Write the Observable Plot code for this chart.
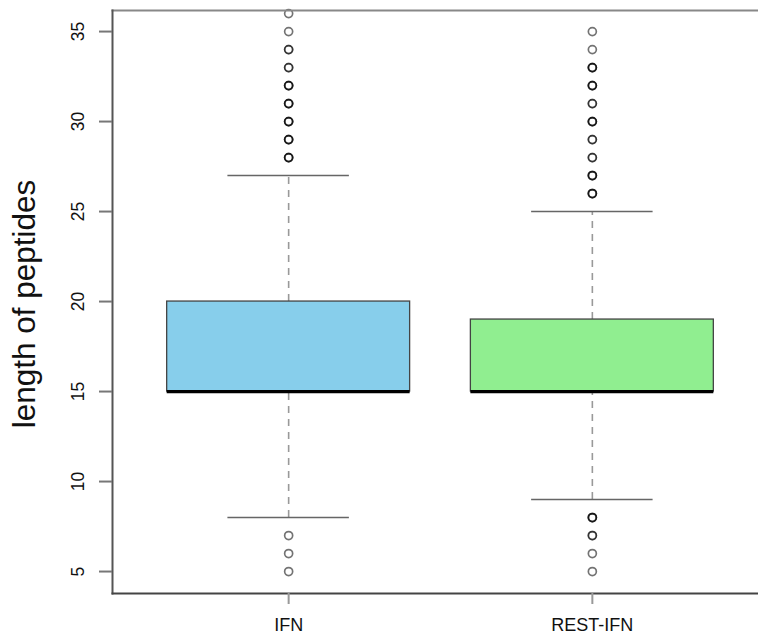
<!DOCTYPE html>
<html>
<head>
<meta charset="utf-8">
<script src="https://cdn.jsdelivr.net/npm/d3@7"></script>
<script src="https://cdn.jsdelivr.net/npm/@observablehq/plot@0.6"></script>
<style>
  html, body { margin: 0; padding: 0; background: #fff; overflow: hidden; width: 758px; height: 642px; }
  #chart { width: 758px; height: 642px; overflow: hidden; }
  #chart svg { display: block; max-width: none !important; width: 758px !important; height: 642px !important; overflow: hidden; }
</style>
</head>
<body>
<div id="chart"></div>
<script>
// ---- data ----
const groups = ["IFN", "REST-IFN"];
const positions = [1, 2];
const q1 = [15, 15];
const median = [15, 15];
const q3 = [20, 19];
const whiskerLow = [8, 9];
const whiskerHigh = [27, 25];
const boxFills = ["#87CEEB", "#90EE90"];
// outliers (repeated values = overplotted points that look darker)
const outliersIFN = [36, 35, 34, 34, 33, 33, 32, 32, 32, 31, 31, 31, 30, 30, 30, 29, 29, 29, 28, 28, 28, 7, 6, 5];
const outliersREST = [35, 34, 33, 33, 33, 32, 32, 32, 31, 31, 30, 30, 30, 29, 29, 28, 28, 27, 27, 27, 26, 26, 26, 8, 8, 8, 7, 7, 6, 5];
const yTicks = [5, 10, 15, 20, 25, 30, 35];
const yLabel = "length of peptides";

const boxes = groups.map((g, i) => ({
  group: g, pos: positions[i], q1: q1[i], median: median[i], q3: q3[i],
  lo: whiskerLow[i], hi: whiskerHigh[i], fill: boxFills[i]
}));
const outliers = [
  ...outliersIFN.map(v => ({pos: positions[0], value: v})),
  ...outliersREST.map(v => ({pos: positions[1], value: v}))
];

const halfBox = 0.4, halfCap = 0.2;

const chart = Plot.plot({
  width: 758,
  height: 642,
  marginLeft: 112,
  marginRight: -10,
  marginTop: 10,
  marginBottom: 49,
  style: {fontFamily: "'Liberation Sans', Arial, sans-serif", background: "#fff", color: "#111", overflow: "hidden"},
  x: {type: "linear", domain: [0.42, 2.58]},
  y: {domain: [3.78, 36.17]},
  marks: [
    // whiskers (dashed)
    Plot.ruleX(boxes, {x: "pos", y1: "q3", y2: "hi", stroke: "#999", strokeWidth: 1.6, strokeDasharray: "7,6"}),
    Plot.ruleX(boxes, {x: "pos", y1: "lo", y2: "q1", stroke: "#999", strokeWidth: 1.6, strokeDasharray: "7,6"}),
    // caps
    Plot.ruleY(boxes, {y: "hi", x1: d => d.pos - halfCap, x2: d => d.pos + halfCap, stroke: "#666", strokeWidth: 1.6}),
    Plot.ruleY(boxes, {y: "lo", x1: d => d.pos - halfCap, x2: d => d.pos + halfCap, stroke: "#666", strokeWidth: 1.6}),
    // boxes
    Plot.rect(boxes, {x1: d => d.pos - halfBox, x2: d => d.pos + halfBox, y1: "q1", y2: "q3", fill: "fill", stroke: "#444", strokeWidth: 1.3}),
    // median
    Plot.ruleY(boxes, {y: "median", x1: d => d.pos - halfBox, x2: d => d.pos + halfBox, stroke: "#000", strokeWidth: 3.2}),
    // outliers
    Plot.dot(outliers, {x: "pos", y: "value", r: 4, stroke: "#000", strokeOpacity: 0.55, strokeWidth: 1.7, fill: "none"}),
    // frame (right side lies outside the visible area)
    Plot.frame({anchor: "top", stroke: "#888", strokeWidth: 2}),
    Plot.frame({anchor: "left", stroke: "#555", strokeWidth: 2}),
    Plot.frame({anchor: "bottom", stroke: "#444", strokeWidth: 2}),
    // axes
    Plot.axisY({ticks: yTicks, tickSize: 13, tickRotate: -90, tickPadding: 16, fontSize: 17.5, stroke: "#777", strokeWidth: 2, label: null}),
    Plot.axisX({ticks: positions, tickFormat: d => groups[d - 1], tickSize: 11, tickPadding: 14, fontSize: 18, stroke: "#999", strokeWidth: 2, label: null}),
    // y title
    Plot.text([yLabel], {text: d => d, frameAnchor: "left", textAnchor: "middle", lineAnchor: "middle", dx: -88, dy: 2, rotate: -90, fontSize: 31.5, fill: "#111"})
  ]
});
document.getElementById("chart").appendChild(chart);
</script>
</body>
</html>
